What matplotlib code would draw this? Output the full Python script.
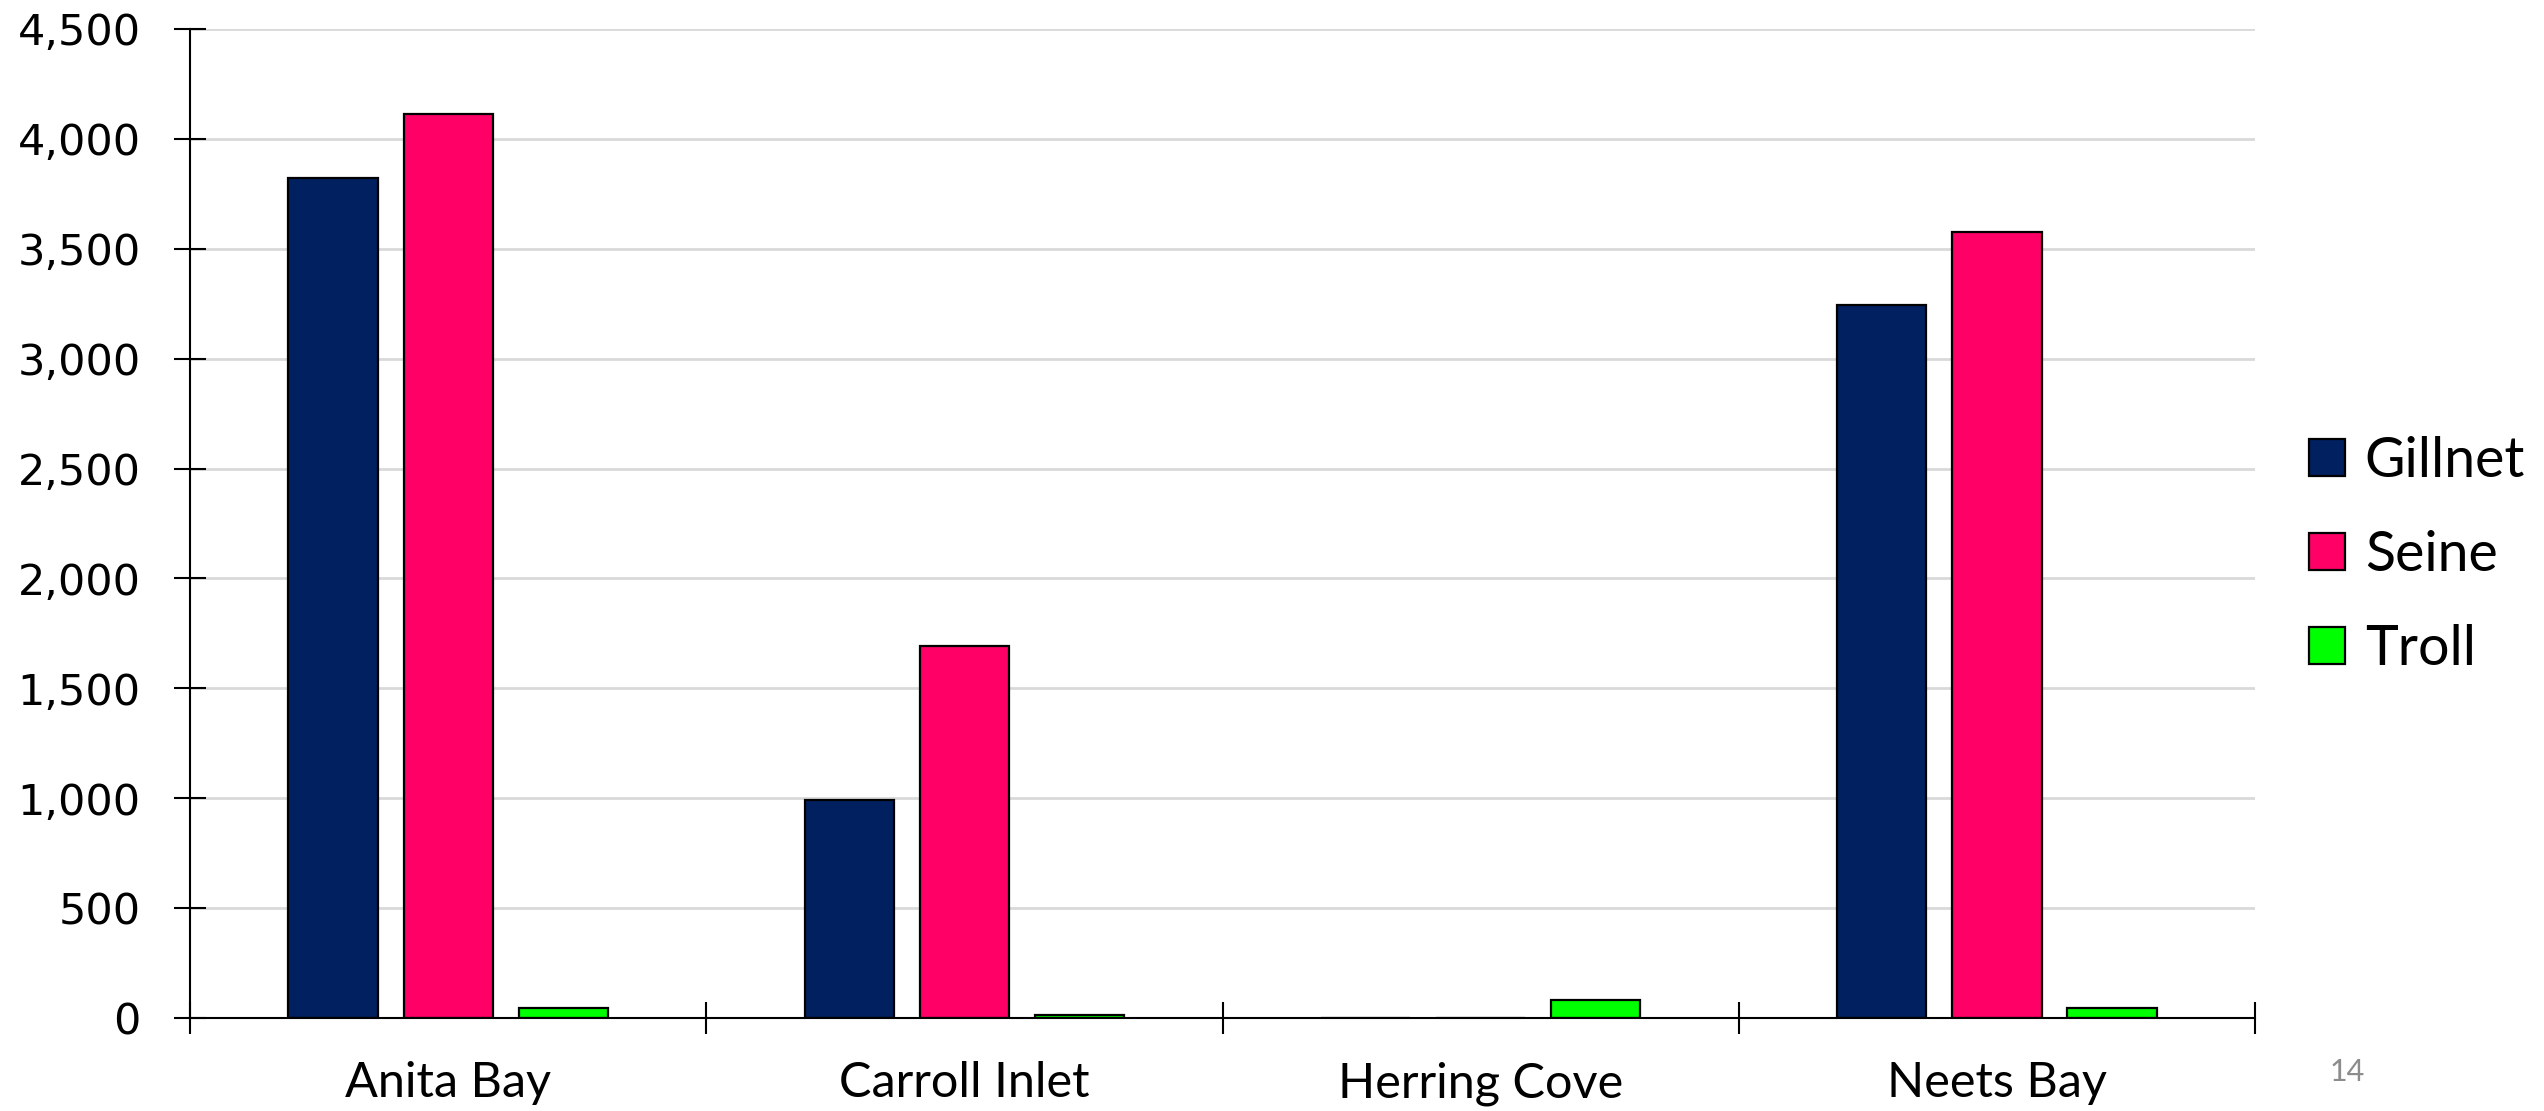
import matplotlib
matplotlib.use("Agg")
import matplotlib.pyplot as plt
import matplotlib.ticker as mticker
from matplotlib.patches import Patch
import numpy as np

categories = ["Anita Bay", "Carroll Inlet", "Herring Cove", "Neets Bay"]
series_names = ["Gillnet", "Seine", "Troll"]
gillnet = [3820, 990, 0, 3244]
seine = [4112, 1692, 0, 3578]
troll = [45, 12, 82, 45]
colors = ["#00205F", "#FF0066", "#00FF00"]
y_ticks = [0, 500, 1000, 1500, 2000, 2500, 3000, 3500, 4000, 4500]

fig = plt.figure(figsize=(25.44, 11.11), dpi=100)
ax = fig.add_axes([0.0747, 0.0837, 0.8117, 0.8902])

x = np.arange(len(categories))
width = 0.173
step = 0.223
for i, (vals, col, name) in enumerate(zip([gillnet, seine, troll], colors, series_names)):
    ax.bar(x + (i - 1) * step, vals, width=width, color=col, edgecolor="black",
           linewidth=1.6, zorder=3, label=name)

ax.set_xlim(-0.5, 3.5)
ax.set_ylim(0, 4500)
ax.set_yticks(y_ticks)
ax.yaxis.set_major_formatter(mticker.FuncFormatter(lambda v, p: f"{int(v):,}"))
ax.grid(axis="y", color="#d9d9d9", linewidth=2, zorder=0)
ax.set_axisbelow(True)

for s in ["top", "right"]:
    ax.spines[s].set_visible(False)
for s in ["left", "bottom"]:
    ax.spines[s].set_linewidth(1.5)
    ax.spines[s].set_zorder(4)

ax.set_xticks(x)
ax.set_xticklabels(categories, fontfamily="Lato", fontsize=35)
ax.tick_params(axis="x", which="major", length=0, pad=31)
ax.set_xticks(np.arange(-0.5, 4.0, 1.0), minor=True)
ax.tick_params(axis="x", which="minor", direction="inout", length=23, width=1.5)
ax.tick_params(axis="y", direction="inout", length=23, width=1.5, pad=24, labelsize=31)
for lbl in ax.get_yticklabels():
    lbl.set_fontfamily("DejaVu Sans")

handles = [Patch(facecolor=c, edgecolor="black", linewidth=1.6, label=n)
           for c, n in zip(colors, series_names)]
fig.legend(handles=handles, loc="center left", bbox_to_anchor=(0.899, 0.5),
           frameon=False, prop={"family": "Lato", "size": 40},
           handlelength=0.65, handleheight=0.65, handletextpad=0.35,
           labelspacing=0.78, borderaxespad=0)

fig.text(0.9225, 0.035, "14", color="#8c8c8c", fontsize=22, fontfamily="Lato",
         ha="center", va="center")

fig.savefig("out.png", dpi=100)
